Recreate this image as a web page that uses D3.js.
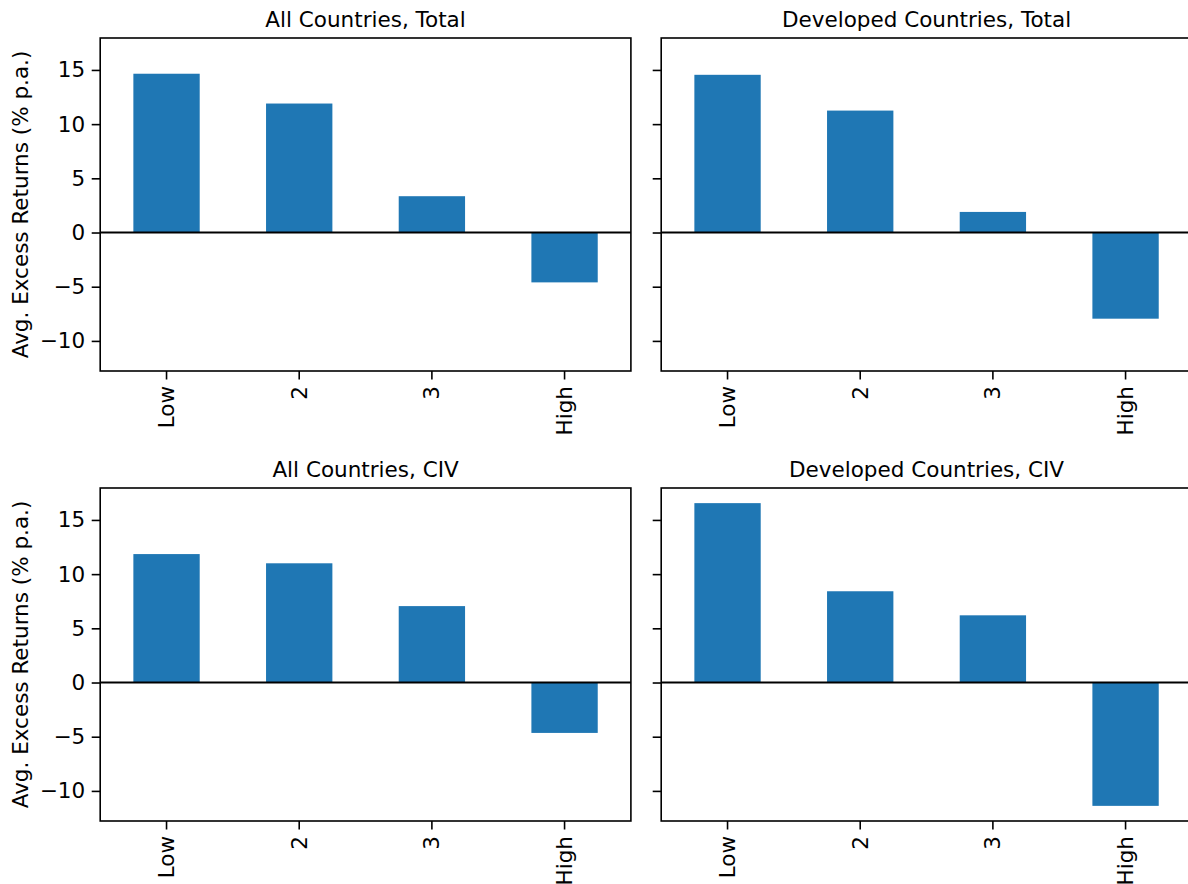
<!DOCTYPE html>
<html>
<head>
<meta charset="utf-8">
<script src="https://cdn.jsdelivr.net/npm/d3@7"></script>
<style>
  body { margin: 0; background: #fff; }
  svg text { font-family: "DejaVu Sans", sans-serif; }
</style>
</head>
<body>
<div id="chart"></div>
<script>
// categories and panel values (avg. excess returns, % p.a.)
const categories = ["Low", "2", "3", "High"];
const panelTitles = ["All Countries, Total", "Developed Countries, Total",
                     "All Countries, CIV", "Developed Countries, CIV"];
const allTotal = [14.65, 11.9, 3.35, -4.6];
const devTotal = [14.55, 11.25, 1.9, -7.95];
const allCIV = [11.85, 11.0, 7.05, -4.65];
const devCIV = [16.55, 8.42, 6.2, -11.38];
const yTicks = [-10, -5, 0, 5, 10, 15];

const panelValues = [allTotal, devTotal, allCIV, devCIV];

const W = 1188, H = 884;
const fontSize = 21.5;
const tickLen = 8.5, tickPad = 6.5;

// panel geometry
const panelW = 530.7, panelH = 333;
const lefts = [100.2, 661.2];
const tops = [38, 488];

// shared y domain with matplotlib-style 5% margins
const allVals = panelValues.flat();
const yMin = d3.min(allVals), yMax = d3.max(allVals);
const marg = (yMax - yMin) * 0.05;

const svg = d3.select("#chart").append("svg")
  .attr("width", W)
  .attr("height", H);

panelValues.forEach((vals, i) => {
  const col = i % 2, row = Math.floor(i / 2);
  const g = svg.append("g")
    .attr("transform", `translate(${lefts[col]},${tops[row]})`);

  const x = d3.scaleBand().domain(categories).range([0, panelW]).paddingInner(0.5).paddingOuter(0.25);
  const y = d3.scaleLinear().domain([yMin - marg, yMax + marg]).range([panelH, 0]);

  // bars
  g.selectAll("rect.bar")
    .data(vals)
    .enter().append("rect")
    .attr("class", "bar")
    .attr("x", (d, j) => x(categories[j]))
    .attr("width", x.bandwidth())
    .attr("y", d => y(Math.max(0, d)))
    .attr("height", d => Math.abs(y(d) - y(0)))
    .attr("fill", "#1f77b4");

  // zero line
  g.append("line")
    .attr("x1", 0).attr("x2", panelW)
    .attr("y1", y(0)).attr("y2", y(0))
    .attr("stroke", "#000")
    .attr("stroke-width", 2);

  // y axis
  const yAxis = g.append("g")
    .call(d3.axisLeft(y).tickValues(yTicks).tickSize(tickLen).tickPadding(tickPad)
      .tickFormat(col === 0 ? d3.format("d") : ""));
  yAxis.select(".domain").remove();

  // x axis
  const xAxis = g.append("g")
    .attr("transform", `translate(0,${panelH})`)
    .call(d3.axisBottom(x).tickSize(tickLen).tickPadding(0));
  xAxis.select(".domain").remove();
  xAxis.selectAll("text")
    .attr("transform", `translate(0,${tickLen + tickPad}) rotate(-90)`)
    .attr("x", 0).attr("y", 0)
    .attr("dy", "0.35em")
    .style("text-anchor", "end");

  [yAxis, xAxis].forEach(a => {
    a.attr("font-family", null).attr("font-size", null);
    a.selectAll("line").attr("stroke", "#000").attr("stroke-width", 1.6);
    a.selectAll("text").attr("fill", "#000").style("font-size", fontSize + "px");
  });

  // spines
  g.append("rect")
    .attr("width", panelW).attr("height", panelH)
    .attr("fill", "none")
    .attr("stroke", "#000")
    .attr("stroke-width", 1.6);

  // title
  g.append("text")
    .attr("x", panelW / 2)
    .attr("y", -11.5)
    .attr("text-anchor", "middle")
    .style("font-size", fontSize + "px")
    .text(panelTitles[i]);

  // y label
  if (col === 0) {
    g.append("text")
      .attr("transform", `translate(${-72.5},${panelH / 2}) rotate(-90)`)
      .attr("text-anchor", "middle")
      .style("font-size", fontSize + "px")
      .text("Avg. Excess Returns (% p.a.)");
  }
});
</script>
</body>
</html>
